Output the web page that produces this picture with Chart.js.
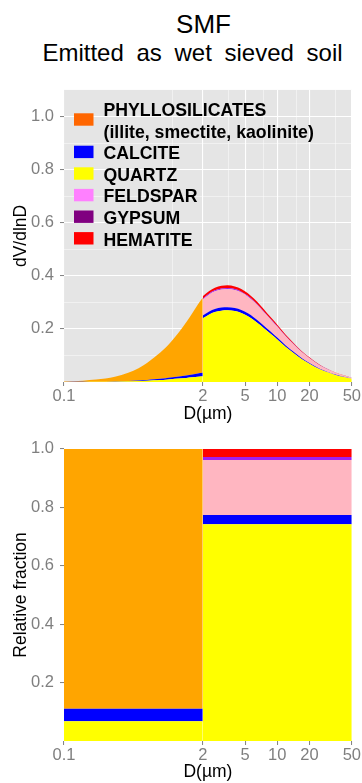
<!DOCTYPE html>
<html><head><meta charset="utf-8">
<script src="https://cdn.jsdelivr.net/npm/chart.js@4.4.1/dist/chart.umd.min.js"></script>
<style>
html,body{margin:0;padding:0;background:#fff;width:362px;height:783px;overflow:hidden;position:relative;font-family:"Liberation Sans",Arial,sans-serif;}
.t{position:absolute;left:0;white-space:nowrap;text-align:center;color:#000;line-height:1;}
#t1{top:11px;width:407px;font-size:26px;}
#t2{top:41px;width:385px;font-size:24px;word-spacing:6px;}
canvas{position:absolute;left:0;}
#c1{top:74px;width:362px;height:354px;}
#c2{top:433px;width:362px;height:350px;}
</style></head><body>
<div class="t" id="t1">SMF</div>
<div class="t" id="t2">Emitted as wet sieved soil</div>
<canvas id="c1" width="362" height="354"></canvas>
<canvas id="c2" width="362" height="350"></canvas>
<script>
// ---------------- data ----------------
const minerals = ['PHYLLOSILICATES', 'CALCITE', 'QUARTZ', 'FELDSPAR', 'GYPSUM', 'HEMATITE'];
const mineralNotes = ['(illite, smectite, kaolinite)', '', '', '', '', ''];
const binEdges = [0.1, 2, 50];
// relative fraction of each mineral in each size bin (same order as minerals)
const fracFine   = [0.89, 0.042, 0.068, 0, 0, 0];
const fracCoarse = [0, 0.032, 0.742, 0.188, 0.010, 0.028];
// total dV/dlnD
const dFine   = [0.1, 0.15, 0.2, 0.3, 0.4, 0.5, 0.6, 0.7, 0.8, 0.9, 1.0, 1.2, 1.4, 1.6, 1.8, 2];
const dvFine  = [0.002, 0.005, 0.009, 0.020, 0.035, 0.052, 0.072, 0.092, 0.111, 0.130, 0.150, 0.188, 0.225, 0.260, 0.292, 0.318];
const dCoarse  = [2, 2.3, 2.6, 3, 3.4, 4, 4.6, 5.3, 6, 7, 8, 9, 10, 12, 14, 17, 20, 25, 30, 35, 42, 50];
const dvCoarse = [0.323, 0.343, 0.355, 0.362, 0.364, 0.360, 0.350, 0.334, 0.315, 0.287, 0.260, 0.237, 0.216, 0.178, 0.150, 0.116, 0.093, 0.065, 0.048, 0.036, 0.025, 0.016];
// axis ticks
const xTicks = [0.1, 2, 5, 10, 20, 50];
const xMinor = [1.05, 3.5, 7.5, 15, 35];
const yTicksTop = [0.2, 0.4, 0.6, 0.8, 1.0];
const yMinorTop = [0.1, 0.3, 0.5, 0.7, 0.9];
const yTicksBottom = [0.2, 0.4, 0.6, 0.8, 1.0];

// ---------------- style ----------------
const FAMILY = '"Liberation Sans", Arial, sans-serif';
const fillColors = ['#FFA500', '#0000FF', '#FFFF00', '#FFB6C1', '#A020F0', '#FF0000'];
const keyColors  = ['#FF6600', '#0000FF', '#FFFF00', '#FF80FF', '#800080', '#FF0000'];
const stackOrder = [2, 1, 0, 3, 4, 5];
const TICK_GREY = '#7f7f7f';
Chart.defaults.font.family = FAMILY;

const isIn = (arr, v) => arr.some(t => Math.abs(t - v) < 1e-9);

function curveDatasets(sides) {
  const ds = [];
  sides.forEach((side, s) => {
    let first = true;
    stackOrder.forEach(m => {
      if (!(side.frac[m] > 0)) return;
      ds.push({
        label: minerals[m], stack: 'bin' + s,
        data: side.x.map((x, i) => ({x: x, y: side.y[i] * side.frac[m]})),
        backgroundColor: fillColors[m], borderColor: 'rgba(0,0,0,0)', borderWidth: 0,
        pointRadius: 0, fill: first ? 'origin' : '-1', cubicInterpolationMode: 'monotone'
      });
      first = false;
    });
  });
  return ds;
}
function barDatasets(fracs) {
  const ds = [];
  fracs.forEach((frac, s) => {
    let first = true;
    stackOrder.forEach(m => {
      if (!(frac[m] > 0)) return;
      ds.push({
        label: minerals[m], stack: 'bin' + s,
        data: [{x: binEdges[s], y: frac[m]}, {x: binEdges[s + 1], y: frac[m]}],
        backgroundColor: fillColors[m], borderColor: 'rgba(0,0,0,0)', borderWidth: 0,
        pointRadius: 0, fill: first ? 'origin' : '-1', tension: 0
      });
      first = false;
    });
  });
  return ds;
}

const panelBg = {
  id: 'panelBg',
  beforeDraw(chart, args, opts) {
    if (!opts || !opts.color) return;
    const {ctx, chartArea: a} = chart;
    ctx.save(); ctx.fillStyle = opts.color; ctx.fillRect(a.left, a.top, a.width, a.height); ctx.restore();
  }
};
const insideLegend = {
  id: 'insideLegend',
  afterDatasetsDraw(chart) {
    const {ctx, chartArea: a} = chart;
    ctx.save();
    ctx.font = 'bold 17.7px ' + FAMILY;
    ctx.textAlign = 'left'; ctx.textBaseline = 'alphabetic';
    const lineH = 21.6;
    let y = a.top + 19.8;
    minerals.forEach((name, m) => {
      const lines = [name];
      if (mineralNotes[m]) lines.push(mineralNotes[m]);
      const centre = y + (lines.length - 1) * lineH / 2 - 1;
      ctx.fillStyle = keyColors[m];
      ctx.fillRect(a.left + 10, centre - 6.2, 19.5, 12.4);
      ctx.fillStyle = '#000';
      lines.forEach((ln, k) => ctx.fillText(ln, a.left + 39.5, y + k * lineH + 6.3));
      y += lines.length * lineH;
    });
    ctx.restore();
  }
};

function gridOpts(majors, onArea) {
  return {
    drawOnChartArea: onArea,
    color: c => (c.tick && isIn(majors, c.tick.value)) ? '#FFFFFF' : 'rgba(255,255,255,0.75)',
    lineWidth: c => (c.tick && isIn(majors, c.tick.value)) ? 1.1 : 0.6,
    tickLength: 4,
    tickWidth: 1,
    tickColor: c => (c.tick && isIn(majors, c.tick.value)) ? TICK_GREY : 'rgba(0,0,0,0)'
  };
}
const tickFont = {size: 16.5, family: FAMILY};
const titleFont = {size: 17.5, family: FAMILY};

// ---------------- top chart ----------------
new Chart(document.getElementById('c1'), {
  type: 'line',
  data: {datasets: curveDatasets([
    {x: dFine, y: dvFine, frac: fracFine},
    {x: dCoarse, y: dvCoarse, frac: fracCoarse}
  ])},
  plugins: [panelBg, insideLegend],
  options: {
    responsive: false, animation: false, devicePixelRatio: 1, events: [],
    layout: {padding: 0},
    plugins: {legend: {display: false}, tooltip: {enabled: false}, panelBg: {color: '#E5E5E5'}},
    scales: {
      x: {
        type: 'logarithmic', min: binEdges[0], max: binEdges[2],
        afterBuildTicks: s => { s.ticks = xTicks.concat(xMinor).sort((a, b) => a - b).map(v => ({value: v})); },
        afterFit: s => { s.height = 46; },
        ticks: {autoSkip: false, maxRotation: 0, padding: 1, color: TICK_GREY, font: tickFont,
                callback: v => isIn(xTicks, v) ? String(v) : ''},
        grid: gridOpts(xTicks, true),
        border: {display: false},
        title: {display: true, text: 'D(µm)', color: '#000', font: titleFont, padding: {top: 0, bottom: 3}}
      },
      y: {
        min: 0, max: 1.1, stacked: true,
        afterBuildTicks: s => { s.ticks = yTicksTop.concat(yMinorTop).sort((a, b) => a - b).map(v => ({value: v})); },
        afterFit: s => { s.width = 64; },
        ticks: {padding: 6, color: TICK_GREY, font: tickFont,
                callback: v => isIn(yTicksTop, v) ? v.toFixed(1) : ''},
        grid: gridOpts(yTicksTop, true),
        border: {display: false},
        title: {display: true, text: 'dV/dlnD', color: '#000', font: titleFont, padding: {top: 11, bottom: 0}}
      }
    }
  }
});

// ---------------- bottom chart ----------------
new Chart(document.getElementById('c2'), {
  type: 'line',
  data: {datasets: barDatasets([fracFine, fracCoarse])},
  options: {
    responsive: false, animation: false, devicePixelRatio: 1, events: [],
    layout: {padding: 0},
    plugins: {legend: {display: false}, tooltip: {enabled: false}},
    scales: {
      x: {
        type: 'logarithmic', min: binEdges[0], max: binEdges[2],
        afterBuildTicks: s => { s.ticks = xTicks.map(v => ({value: v})); },
        afterFit: s => { s.height = 42; },
        ticks: {autoSkip: false, maxRotation: 0, padding: 1, color: TICK_GREY, font: tickFont,
                callback: v => String(v)},
        grid: gridOpts(xTicks, false),
        border: {display: false},
        title: {display: true, text: 'D(µm)', color: '#000', font: titleFont, padding: {top: 0, bottom: 0}}
      },
      y: {
        min: 0, max: 1, stacked: true,
        afterBuildTicks: s => { s.ticks = yTicksBottom.map(v => ({value: v})); },
        afterFit: s => { s.width = 64; },
        ticks: {padding: 6, color: TICK_GREY, font: tickFont, callback: v => v.toFixed(1)},
        grid: gridOpts(yTicksBottom, false),
        border: {display: false},
        title: {display: true, text: 'Relative fraction', color: '#000', font: titleFont, padding: {top: 11, bottom: 0}}
      }
    }
  }
});
</script>
</body></html>
